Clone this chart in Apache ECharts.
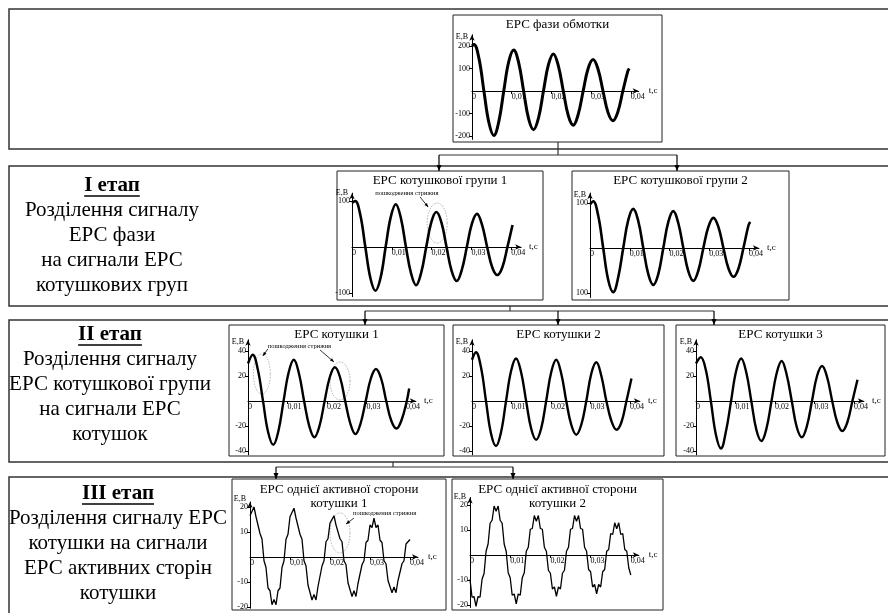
<!DOCTYPE html>
<html><head><meta charset="utf-8">
<script src="https://cdn.jsdelivr.net/npm/echarts@6/dist/echarts.min.js"></script>
<style>html,body{margin:0;padding:0;background:#fff}#c{width:888px;height:613px}</style>
</head><body><div id="c"></div>
<script>
// ---------------- DATA ----------------
const xTicks = [0, 0.01, 0.02, 0.03, 0.04];
const yTicksA = [-200, -100, 100, 200];
const yTicksB = [-100, 100];
const yLabelsB2 = ['100', '100'];          // bottom label printed without minus in the source
const yTicksC = [-40, -20, 20, 40];
const yTicksD = [-20, -10, 10, 20];

const titleA = ['ЕРС фази обмотки'];
const titleB1 = ['ЕРС котушкової групи 1'];
const titleB2 = ['ЕРС котушкової групи 2'];
const titleC1 = ['ЕРС котушки 1'];
const titleC2 = ['ЕРС котушки 2'];
const titleC3 = ['ЕРС котушки 3'];
const titleD1 = ['ЕРС однієї активної сторони', 'котушки 1'];
const titleD2 = ['ЕРС однієї активної сторони', 'котушки 2'];
const damageLabel = 'пошкодження стрижня';

const stage1 = ['І етап', 'Розділення сигналу', 'ЕРС фази', 'на сигнали ЕРС', 'котушкових груп'];
const stage2 = ['ІІ етап', 'Розділення сигналу', 'ЕРС котушкової групи', 'на сигнали ЕРС', 'котушок'];
const stage3 = ['ІІІ етап', 'Розділення сигналу ЕРС', 'котушки на сигнали', 'ЕРС активних сторін', 'котушки'];

// phase EMF
const tA = [0, 0.0005, 0.00175, 0.003, 0.00425, 0.0055, 0.00675, 0.008, 0.00925, 0.0105, 0.01175, 0.013, 0.01425, 0.0155, 0.01675, 0.018, 0.01925, 0.0205, 0.02175, 0.023, 0.02425, 0.0255, 0.02675, 0.028, 0.02925, 0.0305, 0.03175, 0.033, 0.03425, 0.0355, 0.03675, 0.038, 0.03925, 0.0396];
const vA = [200, 207, 145, 0, -140, -198, -136, 0, 130, 182, 126, 0, -123, -172, -120, 0, 117, 165, 112, 0, -109, -152, -104, 0, 100, 140, 97, 0, -95, -132, -92, 0, 88, 100];
// coil group 1
const tB1 = [0, 0.0008, 0.00208, 0.00335, 0.00463, 0.0059, 0.00718, 0.00845, 0.00973, 0.011, 0.01228, 0.01355, 0.01483, 0.0161, 0.01738, 0.01865, 0.01993, 0.0212, 0.02248, 0.02375, 0.02503, 0.0263, 0.02758, 0.02885, 0.03013, 0.0314, 0.03268, 0.03395, 0.03523, 0.0365, 0.03778, 0.03905, 0.04033];
const vB1 = [96, 100, 70, 0, -68, -95, -67, 0, 65, 93, 63, 0, -57, -83, -56, 0, 54, 76, 53, 0, -52, -74, -50, 0, 51, 72, 48, 0, -44, -61, -44, 0, 48];
// coil group 2
const tB2 = [0, 0.0008, 0.00206, 0.00332, 0.00458, 0.00584, 0.0071, 0.00836, 0.00962, 0.01088, 0.01214, 0.0134, 0.01466, 0.01592, 0.01718, 0.01844, 0.0197, 0.02096, 0.02222, 0.02348, 0.02474, 0.026, 0.02726, 0.02852, 0.02978, 0.03104, 0.0323, 0.03356, 0.03482, 0.03608, 0.03734, 0.0386, 0.03986, 0.0403];
const vB2 = [97, 104, 72, 0, -71, -98, -65, 0, 62, 87, 60, 0, -58, -82, -58, 0, 58, 82, 55, 0, -52, -73, -50, 0, 47, 67, 47, 0, -45, -64, -46, 0, 50, 58];
// coil 1
const tC1 = [0, 0.0012, 0.0025, 0.0038, 0.0051, 0.0064, 0.0077, 0.009, 0.0103, 0.0116, 0.0129, 0.0142, 0.0155, 0.0168, 0.0181, 0.0194, 0.0207, 0.022, 0.0233, 0.0246, 0.0259, 0.0272, 0.0285, 0.0298, 0.0311, 0.0324, 0.0337, 0.035, 0.0363, 0.0376, 0.0389, 0.0402, 0.0408];
const vC1 = [30, 37, 25, 0, -25, -35, -24, 0, 23, 33, 22, 0, -20, -29, -20, 0, 19, 27, 19, 0, -18, -26.5, -18, 0, 18, 25.6, 18, 0, -16, -22, -15, 0, 10];
// coil 2
const tC2 = [0, 0.001, 0.00227, 0.00354, 0.00481, 0.00608, 0.00735, 0.00862, 0.00989, 0.01116, 0.01243, 0.0137, 0.01497, 0.01624, 0.01751, 0.01878, 0.02005, 0.02132, 0.02259, 0.02386, 0.02513, 0.0264, 0.02767, 0.02894, 0.03021, 0.03148, 0.03275, 0.03402, 0.03529, 0.03656, 0.03783, 0.0391, 0.04037];
const vC2 = [33, 39, 27, 0, -26, -36, -25, 0, 24, 34, 23, 0, -22, -31, -22, 0, 23, 33, 22, 0, -19, -27, -19, 0, 22, 31, 20, 0, -16, -23, -17, 0, 18];
// coil 3
const tC3 = [0, 0.0012, 0.00248, 0.00376, 0.00504, 0.00632, 0.0076, 0.00888, 0.01016, 0.01144, 0.01272, 0.014, 0.01528, 0.01656, 0.01784, 0.01912, 0.0204, 0.02168, 0.02296, 0.02424, 0.02552, 0.0268, 0.02808, 0.02936, 0.03064, 0.03192, 0.0332, 0.03448, 0.03576, 0.03704, 0.03832, 0.0396, 0.04088];
const vC3 = [30, 35, 25, 0, -27, -38, -24, 0, 24, 34, 23, 0, -23, -32, -22, 0, 22, 32, 21, 0, -21, -29, -20, 0, 20, 28, 19, 0, -17, -24, -17, 0, 17];
// active sides (sampled every 0.5 ms)
const tD = [0, 0.0005, 0.001, 0.0015, 0.002, 0.0025, 0.003, 0.0035, 0.004, 0.0045, 0.005, 0.0055, 0.006, 0.0065, 0.007, 0.0075, 0.008, 0.0085, 0.009, 0.0095,
  0.01, 0.0105, 0.011, 0.0115, 0.012, 0.0125, 0.013, 0.0135, 0.014, 0.0145, 0.015, 0.0155, 0.016, 0.0165, 0.017, 0.0175, 0.018, 0.0185, 0.019, 0.0195,
  0.02, 0.0205, 0.021, 0.0215, 0.022, 0.0225, 0.023, 0.0235, 0.024, 0.0245, 0.025, 0.0255, 0.026, 0.0265, 0.027, 0.0275, 0.028, 0.0285, 0.029, 0.0295,
  0.03, 0.0305, 0.031, 0.0315, 0.032, 0.0325, 0.033, 0.0335, 0.034, 0.0345, 0.035, 0.0355, 0.036, 0.0365, 0.037, 0.0375, 0.038, 0.0385, 0.039, 0.0395, 0.04];
const vD1 = [16.5, 16.1, 20.0, 16.1, 16.5, 9.4, 7.2, -1.5, -4.2, -12.4, -13.5, -19.1, -17.0, -19.1, -13.5, -12.4, -4.2, -1.5, 7.1, 9.1,
  16.1, 15.6, 19.5, 15.6, 16.1, 9.1, 7.1, -1.5, -3.6, -11.2, -11.8, -17.2, -15.0, -17.2, -11.8, -11.2, -3.6, -1.5, 6.1, 7.3,
  13.6, 12.8, 16.5, 12.8, 13.6, 7.3, 6.1, -1.5, -3.1, -10.3, -10.6, -15.8, -13.5, -15.8, -10.6, -10.3, -3.1, -1.5, 5.8, 6.7,
  12.8, 11.8, 15.5, 11.8, 12.8, 6.7, 5.8, -1.5, -2.7, -9.4, -9.4, -14.3, -12.0, -14.3, -9.4, -9.4, -2.7, -1.5, 5.2, 5.6, 7];
const vD2 = [-9.7, -16.9, -16.6, -20.5, -16.6, -16.9, -9.7, -7.4, 1.5, 4.4, 12.7, 13.9, 19.6, 17.5, 19.6, 13.9, 12.7, 4.4, 1.5, -7.1,
  -9.1, -16.1, -15.6, -19.5, -15.6, -16.1, -9.1, -7.1, 1.5, 3.1, 10.3, 10.6, 15.8, 13.5, 15.8, 10.6, 10.3, 3.1, 1.5, -6.1,
  -7.3, -13.6, -12.8, -16.5, -12.8, -13.6, -7.3, -6.1, 1.5, 3.1, 10.3, 10.6, 15.8, 13.5, 15.8, 10.6, 10.3, 3.1, 1.5, -5.8,
  -6.7, -12.8, -11.8, -15.5, -11.8, -12.8, -6.7, -5.8, 1.5, 2.2, 8.6, 8.2, 12.9, 10.5, 12.9, 8.2, 8.6, 2.2, 1.5, -5.2, -8];

// damage annotations: [chart index, t, E] at the ellipse centre
const damageB1 = [1, 0.0214, 52];
const damageC1a = [3, 0.0035, 21.6];
const damageC1b = [3, 0.0233, 16];
const damageD1 = [6, 0.0225, 9.6];

// ---------------- LAYOUT ----------------
const FONT = "Liberation Serif";
const layout = [
  {frame: [453, 15, 209, 127], ox: 472, oy: 91, xs: 3970, ys: 0.225, yMin: -215, yMax: 250, xMax: 0.042, ty: 25},
  {frame: [337, 171, 206, 129], ox: 352, oy: 247, xs: 3980, ys: 0.46, yMin: -108, yMax: 117, xMax: 0.0425, ty: 181},
  {frame: [572, 171, 217, 129], ox: 590, oy: 248, xs: 3975, ys: 0.45, yMin: -110, yMax: 122, xMax: 0.0425, ty: 181},
  {frame: [229, 325, 215, 131], ox: 248, oy: 401, xs: 3950, ys: 1.25, yMin: -43, yMax: 49, xMax: 0.0425, ty: 335},
  {frame: [453, 325, 211, 131], ox: 472, oy: 401, xs: 3950, ys: 1.25, yMin: -43, yMax: 49, xMax: 0.0425, ty: 335},
  {frame: [676, 325, 209, 131], ox: 696, oy: 401, xs: 3950, ys: 1.25, yMin: -43, yMax: 49, xMax: 0.0425, ty: 335},
  {frame: [232, 479, 214, 131], ox: 250, oy: 557, xs: 4000, ys: 2.5, yMin: -20.5, yMax: 22, xMax: 0.042, ty: 490},
  {frame: [452, 479, 211, 131], ox: 470, oy: 555, xs: 4020, ys: 2.5, yMin: -21, yMax: 23, xMax: 0.042, ty: 490}
];

const charts = [
  {t: tA, v: vA, ticks: yTicksA, labels: null, title: titleA, lw: 3, smooth: 0.4},
  {t: tB1, v: vB1, ticks: yTicksB, labels: null, title: titleB1, lw: 2.6, smooth: 0.4},
  {t: tB2, v: vB2, ticks: yTicksB, labels: yLabelsB2, title: titleB2, lw: 2.6, smooth: 0.4},
  {t: tC1, v: vC1, ticks: yTicksC, labels: null, title: titleC1, lw: 2.4, smooth: 0.4},
  {t: tC2, v: vC2, ticks: yTicksC, labels: null, title: titleC2, lw: 2.4, smooth: 0.4},
  {t: tC3, v: vC3, ticks: yTicksC, labels: null, title: titleC3, lw: 2.4, smooth: 0.4},
  {t: tD, v: vD1, ticks: yTicksD, labels: null, title: titleD1, lw: 1.3, smooth: false},
  {t: tD, v: vD2, ticks: yTicksD, labels: null, title: titleD2, lw: 1.3, smooth: false}
];

const chart = echarts.init(document.getElementById('c'), null, {renderer: 'canvas', width: 888, height: 613});
const grid = [], xAxis = [], yAxis = [], series = [];
charts.forEach((c, i) => {
  const L = layout[i];
  grid.push({left: L.ox, top: L.oy - L.yMax * L.ys, width: L.xMax * L.xs, height: (L.yMax - L.yMin) * L.ys, containLabel: false, show: false});
  xAxis.push({
    type: 'value', gridIndex: i, min: 0, max: L.xMax, position: 'bottom',
    offset: L.yMin * L.ys,   // lift the time axis to E = 0
    name: 't,c', nameLocation: 'end', nameGap: 3,
    nameTextStyle: {fontFamily: FONT, fontSize: 9, color: '#000'},
    axisLine: {onZero: false, lineStyle: {color: '#000', width: 1}, symbol: ['none', 'arrow'], symbolSize: [4, 6]},
    axisTick: {show: true, customValues: xTicks.slice(1), length: 3, lineStyle: {color: '#000'}},
    axisLabel: {customValues: xTicks, formatter: v => v === 0 ? '0' : v.toFixed(2).replace('.', ','),
      fontFamily: FONT, fontSize: 8, color: '#000', margin: 2, align: 'left'},
    splitLine: {show: false}
  });
  yAxis.push({
    type: 'value', gridIndex: i, min: L.yMin, max: L.yMax,
    name: 'Е,В', nameLocation: 'end', nameGap: -2,
    nameTextStyle: {fontFamily: FONT, fontSize: 8, color: '#000', align: 'right', verticalAlign: 'middle', padding: [0, 4, 0, 0]},
    axisLine: {show: true, onZero: false, lineStyle: {color: '#000', width: 1}, symbol: ['none', 'arrow'], symbolSize: [4, 6]},
    axisTick: {show: true, customValues: c.ticks, length: 3, lineStyle: {color: '#000'}},
    axisLabel: {customValues: c.ticks, formatter: v => c.labels ? c.labels[c.ticks.indexOf(v)] : String(v),
      fontFamily: FONT, fontSize: 8, color: '#000', margin: 2},
    splitLine: {show: false}
  });
  series.push({
    type: 'line', xAxisIndex: i, yAxisIndex: i,
    data: c.t.map((t, k) => [t, c.v[k]]),
    showSymbol: false, smooth: c.smooth, silent: true,
    lineStyle: {color: '#000', width: c.lw}
  });
});

chart.setOption({animation: false, backgroundColor: '#fff', grid, xAxis, yAxis, series});

// ---------------- DECORATION (boxes, arrows, texts) ----------------
const G = [];
const STROKE = '#333';
function line(x1, y1, x2, y2, w, col, dash) {
  G.push({type: 'line', shape: {x1, y1, x2, y2}, style: {stroke: col || STROKE, lineWidth: w || 1.2, lineDash: dash || null}, silent: true});
}
function head(x1, y1, x2, y2, len, wid, col) {
  const dx = x2 - x1, dy = y2 - y1, d = Math.hypot(dx, dy) || 1;
  const ux = dx / d, uy = dy / d;
  const bx = x2 - ux * len, by = y2 - uy * len;
  G.push({type: 'polygon', shape: {points: [[x2, y2], [bx - uy * wid, by + ux * wid], [bx + uy * wid, by - ux * wid]]},
    style: {fill: col || '#000'}, silent: true});
}
function arrow(x1, y1, x2, y2, w, len, wid) { line(x1, y1, x2, y2, w, '#000'); head(x1, y1, x2, y2, len, wid); }
function text(str, x, y, size, opts) {
  G.push({type: 'text', x, y, silent: true, style: Object.assign({text: str, fill: '#000', fontSize: size, fontFamily: FONT,
    align: 'center', verticalAlign: 'middle'}, opts || {})});
}

// stage boxes
[[9, 9, 890, 140], [9, 166, 890, 140], [9, 320, 890, 142], [9, 477, 890, 150]].forEach(b => {
  G.push({type: 'rect', shape: {x: b[0], y: b[1], width: b[2], height: b[3]}, style: {fill: 'none', stroke: STROKE, lineWidth: 1.5}, silent: true});
});
// chart frames and titles
charts.forEach((c, i) => {
  const f = layout[i].frame;
  G.push({type: 'rect', shape: {x: f[0], y: f[1], width: f[2], height: f[3]}, style: {fill: 'none', stroke: '#222', lineWidth: 1}, silent: true});
  c.title.forEach((s, j) => text(s, f[0] + f[2] / 2, layout[i].ty + j * 14, 13));
});
// connectors
line(558, 142, 558, 155, 1.2); line(439, 155, 677, 155, 1.2);
arrow(439, 155, 439, 171, 1.2, 6, 2.5); arrow(677, 155, 677, 171, 1.2, 6, 2.5);
line(510, 306, 510, 311, 1.2); line(365, 311, 714, 311, 1.2);
arrow(365, 311, 365, 325, 1.2, 6, 2.5); arrow(558, 311, 558, 325, 1.2, 6, 2.5); arrow(714, 311, 714, 325, 1.2, 6, 2.5);
line(393, 462, 393, 467, 1.2); line(276, 467, 513, 467, 1.2);
arrow(276, 467, 276, 479, 1.2, 6, 2.5); arrow(513, 467, 513, 479, 1.2, 6, 2.5);

// stage texts
const ctx = document.createElement('canvas').getContext('2d');
function stageText(lines, cx, y0) {
  lines.forEach((s, j) => {
    const y = y0 + j * 24.8;
    if (j === 0) {
      text(s, cx, y, 21, {fontWeight: 'bold'});
      ctx.font = 'bold 21px "' + FONT + '"';
      const w = ctx.measureText(s).width;
      line(cx - w / 2, y + 10, cx + w / 2, y + 10, 1.6, '#000');
    } else {
      text(s, cx, y, 21);
    }
  });
}
stageText(stage1, 112, 186);
stageText(stage2, 110, 335);
stageText(stage3, 118, 494);

// damage ellipses
function px(a) { return chart.convertToPixel({gridIndex: a[0]}, [a[1], a[2]]); }
function ellipse(c, rx, ry) {
  G.push({type: 'circle', x: c[0], y: c[1], scaleX: rx / ry, scaleY: 1, shape: {cx: 0, cy: 0, r: ry},
    style: {fill: 'none', stroke: '#777', lineWidth: 0.8, lineDash: [1.5, 1.5]}, silent: true});
}
const eB1 = px(damageB1); ellipse(eB1, 10, 20);
text(damageLabel, eB1[0] - 62, eB1[1] - 30, 6.5, {align: 'left'});
arrow(eB1[0] - 17, eB1[1] - 26, eB1[0] - 9, eB1[1] - 16, 0.8, 4, 1.6);
const eC1a = px(damageC1a); ellipse(eC1a, 8.5, 20);
const eC1b = px(damageC1b); ellipse(eC1b, 10, 19);
text(damageLabel, eC1a[0] + 6, eC1a[1] - 28, 6.5, {align: 'left'});
arrow(eC1a[0] + 6, eC1a[1] - 25, eC1a[0] + 1, eC1a[1] - 18, 0.8, 4, 1.6);
arrow(eC1b[0] - 20, eC1b[1] - 31, eC1b[0] - 6, eC1b[1] - 19, 0.8, 4, 1.6);
const eD1 = px(damageD1); ellipse(eD1, 10, 20);
text(damageLabel, eD1[0] + 13, eD1[1] - 20, 6.5, {align: 'left'});
arrow(eD1[0] + 14, eD1[1] - 15, eD1[0] + 6, eD1[1] - 9, 0.8, 4, 1.6);

chart.setOption({graphic: {elements: G}});
</script></body></html>
